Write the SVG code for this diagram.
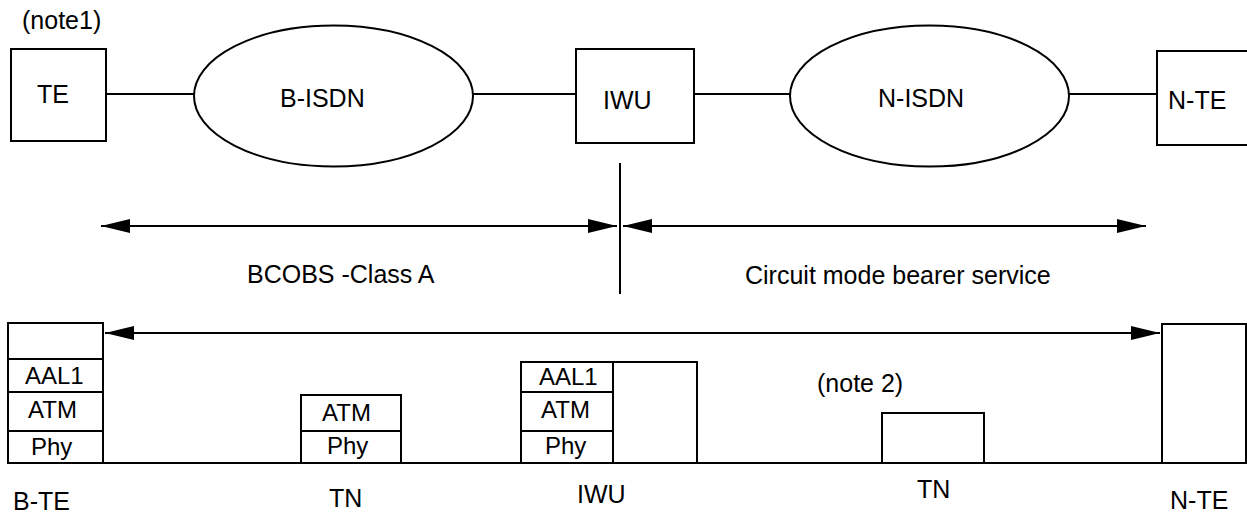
<svg xmlns="http://www.w3.org/2000/svg" width="1247" height="513" viewBox="0 0 1247 513">
<style>
.s{fill:#fff;stroke:#000;stroke-width:2}
.n{fill:none;stroke:#000;stroke-width:2}
.t{font-family:"Liberation Sans",Arial,sans-serif;font-size:25px;fill:#000}
.k{font-family:"Liberation Sans",Arial,sans-serif;font-size:24px;fill:#000}
</style>
<defs>
<marker id="ah" markerUnits="userSpaceOnUse" markerWidth="30" markerHeight="14" refX="29" refY="7" orient="auto-start-reverse" viewBox="0 0 30 14">
<path d="M0,0 L29,7 L0,14 z" fill="#000"/>
</marker>
</defs>
<text class="t" x="22" y="29">(note1)</text>
<g id="connectors">
<line class="n" x1="106" y1="94" x2="194" y2="94"/>
<line class="n" x1="473" y1="94" x2="576" y2="94"/>
<line class="n" x1="694" y1="94" x2="790" y2="94"/>
<line class="n" x1="1069" y1="94" x2="1157" y2="94"/>
<line class="n" x1="620" y1="163" x2="620" y2="294"/>
<line class="n" x1="101" y1="226" x2="617" y2="226" marker-start="url(#ah)" marker-end="url(#ah)"/>
<line class="n" x1="623" y1="226" x2="1146" y2="226" marker-start="url(#ah)" marker-end="url(#ah)"/>
<line class="n" x1="105" y1="333" x2="1160" y2="333" marker-start="url(#ah)" marker-end="url(#ah)"/>
<line class="n" x1="8" y1="463" x2="1246" y2="463"/>
</g>
<g id="te">
<rect class="s" x="11" y="49" width="95" height="92"/>
<text class="t" x="37" y="103">TE</text>
</g>
<g id="bisdn">
<ellipse class="s" cx="333.5" cy="96" rx="139.5" ry="70.5"/>
<text class="t" x="280" y="107">B-ISDN</text>
</g>
<g id="iwu">
<rect class="s" x="576" y="49" width="118" height="94"/>
<text class="t" x="603" y="109">IWU</text>
</g>
<g id="nisdn">
<ellipse class="s" cx="929.5" cy="96" rx="139.5" ry="70.5"/>
<text class="t" x="878" y="107">N-ISDN</text>
</g>
<g id="nte">
<rect class="s" x="1157" y="51" width="92" height="94"/>
<text class="t" x="1168" y="109">N-TE</text>
</g>
<text class="t" x="247" y="283">BCOBS -Class A</text>
<text class="t" x="745" y="284">Circuit mode bearer service</text>
<g id="bte-stack">
<rect class="s" x="8" y="323" width="95" height="36"/>
<rect class="s" x="8" y="359" width="95" height="33"/>
<rect class="s" x="8" y="392" width="95" height="39"/>
<rect class="s" x="8" y="431" width="95" height="32"/>
<text class="k" x="25" y="384">AAL1</text>
<text class="k" x="28" y="418">ATM</text>
<text class="k" x="31" y="455">Phy</text>
<text class="t" x="13" y="510">B-TE</text>
</g>
<g id="tn1-stack">
<rect class="s" x="301" y="395" width="100" height="36"/>
<rect class="s" x="301" y="431" width="100" height="32"/>
<text class="k" x="322" y="421">ATM</text>
<text class="k" x="327" y="454">Phy</text>
<text class="t" x="329" y="507">TN</text>
</g>
<g id="iwu-stack">
<rect class="s" x="613" y="362" width="84" height="101"/>
<rect class="s" x="521" y="362" width="92" height="30"/>
<rect class="s" x="521" y="392" width="92" height="39"/>
<rect class="s" x="521" y="431" width="92" height="32"/>
<text class="k" x="539" y="385">AAL1</text>
<text class="k" x="541" y="418">ATM</text>
<text class="k" x="545" y="454">Phy</text>
<text class="t" x="577" y="503">IWU</text>
</g>
<g id="tn2">
<text class="t" x="817" y="392">(note 2)</text>
<rect class="s" x="882" y="413" width="102" height="50"/>
<text class="t" x="917" y="498">TN</text>
</g>
<g id="nte-stack">
<rect class="s" x="1162" y="324" width="84" height="139"/>
<text class="t" x="1170" y="509">N-TE</text>
</g>
</svg>
